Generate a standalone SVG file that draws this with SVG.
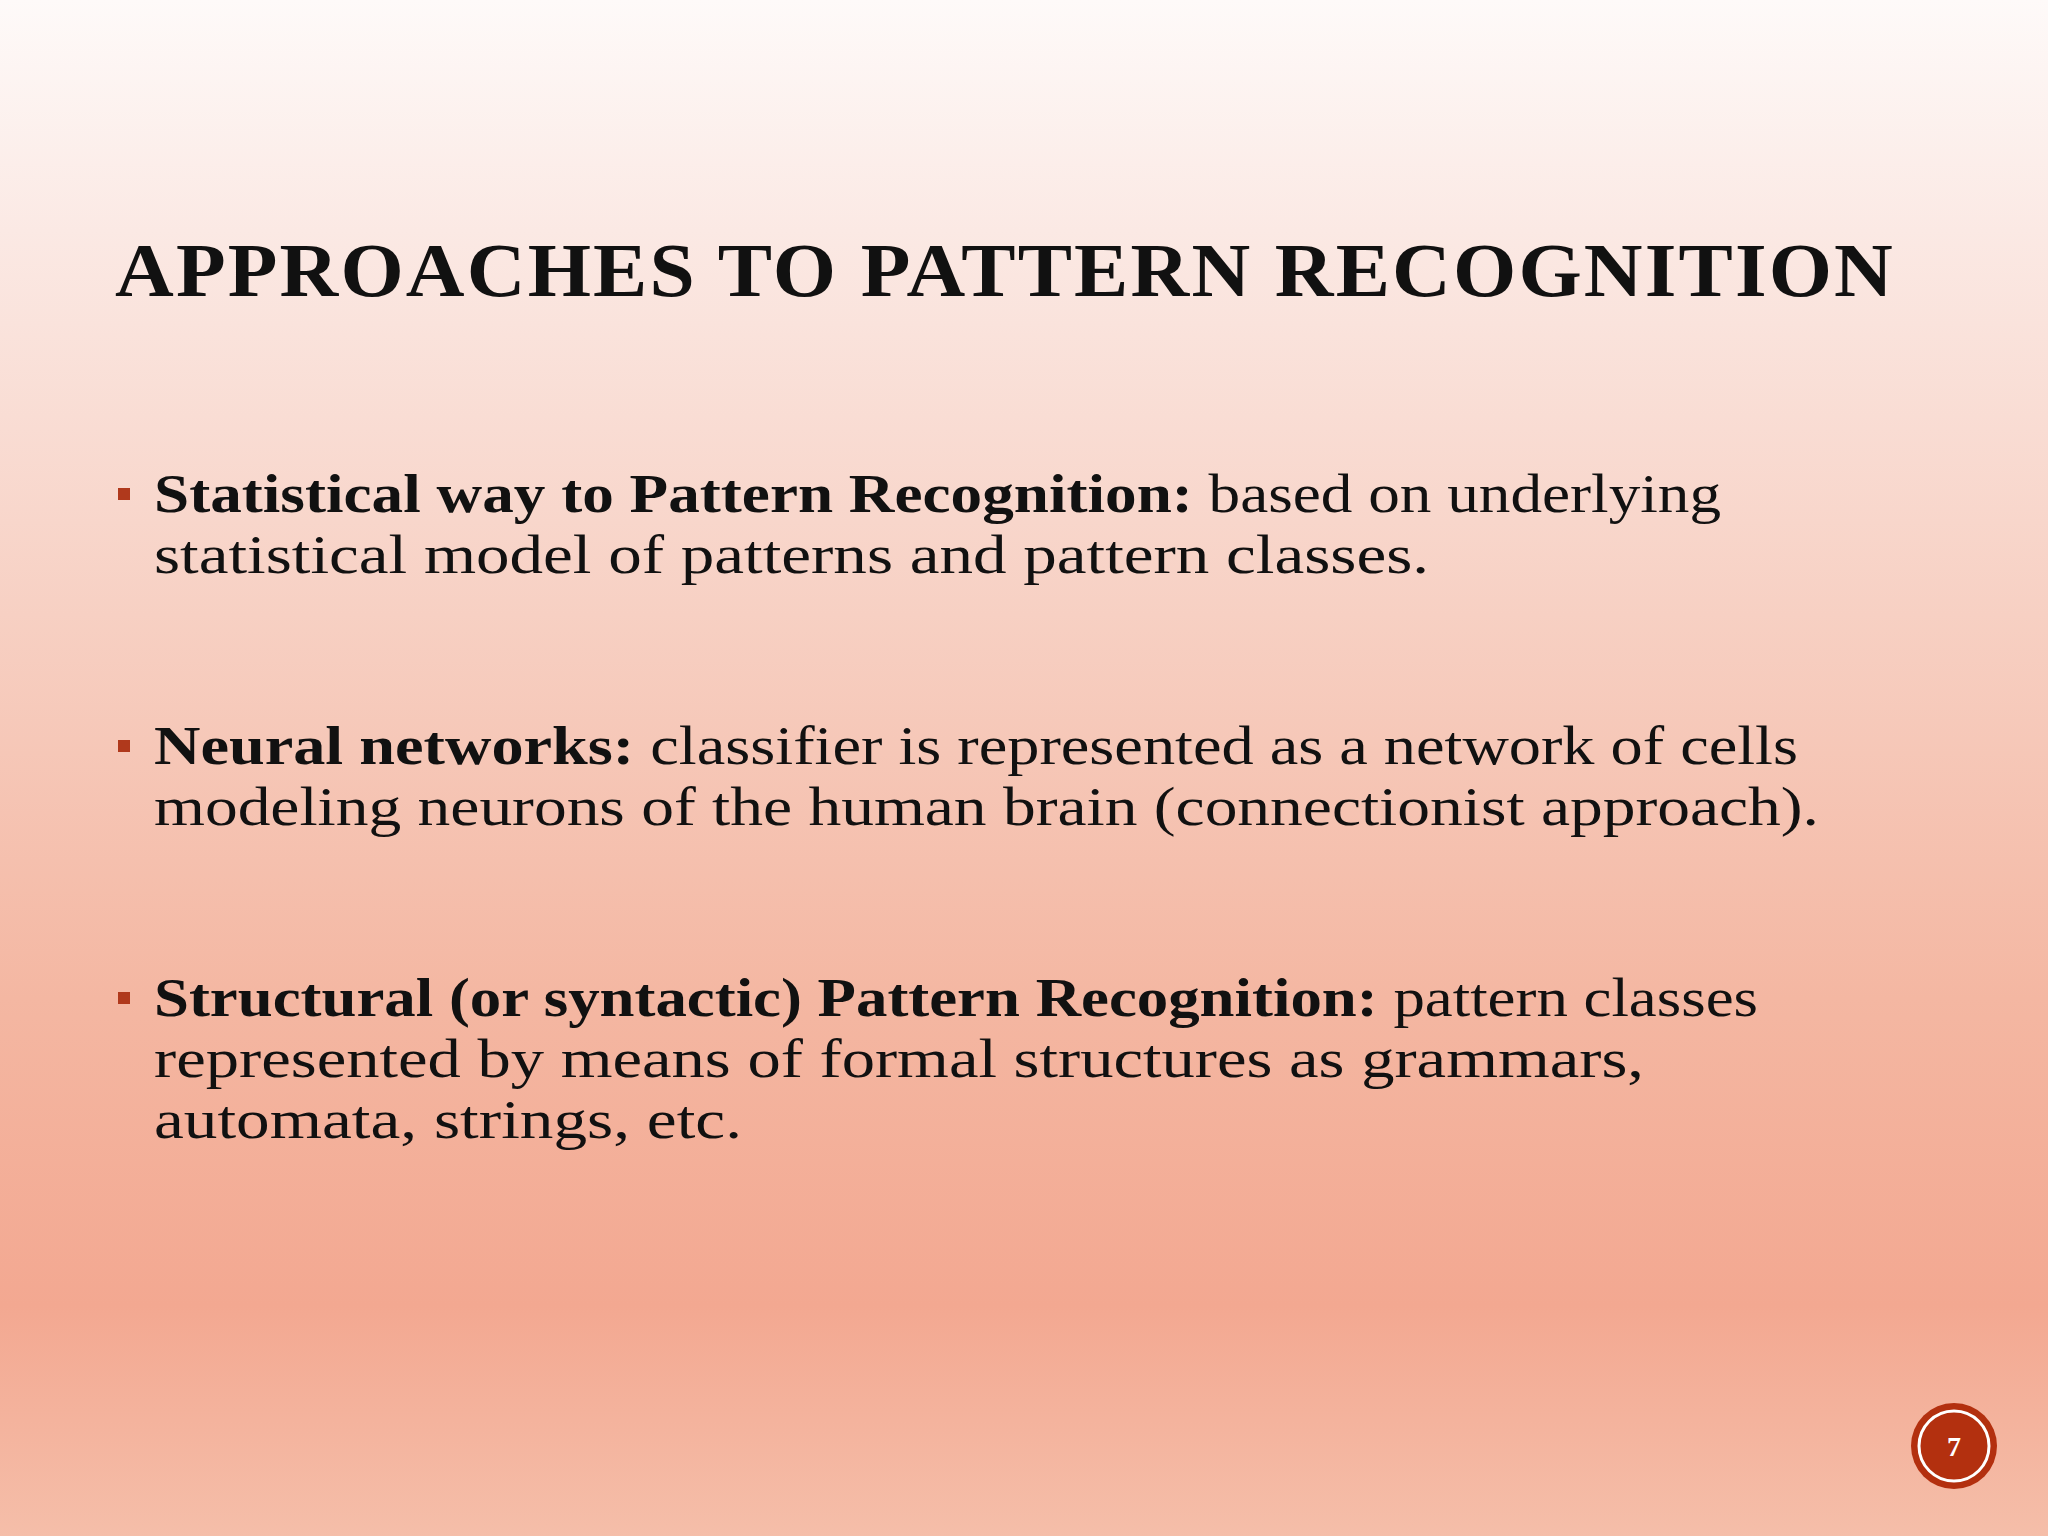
<svg xmlns="http://www.w3.org/2000/svg" width="2048" height="1536" viewBox="0 0 2048 1536">
<defs>
<linearGradient id="bg" x1="0" y1="0" x2="0" y2="1">
<stop offset="0" stop-color="#fefaf9"/>
<stop offset="0.15" stop-color="#fbe9e4"/>
<stop offset="0.4" stop-color="#f7d0c3"/>
<stop offset="0.65" stop-color="#f4b7a2"/>
<stop offset="0.85" stop-color="#f3a891"/>
<stop offset="1" stop-color="#f5bea9"/>
</linearGradient>
<style>
.t{font-family:"Liberation Serif",serif;font-size:55px;fill:#111}
.b{font-weight:bold}
.bul{fill:#b0391c}
</style>
</defs>
<rect width="2048" height="1536" fill="url(#bg)"/>
<g id="title"><text x="115" y="296" font-family="Liberation Serif,serif" font-weight="bold" font-size="76" fill="#111" textLength="1780" lengthAdjust="spacingAndGlyphs" letter-spacing="2">APPROACHES TO PATTERN RECOGNITION</text></g>
<g id="bullet1">
<rect class="bul" x="118" y="488" width="12" height="12"/>
<text class="t" x="154" y="512" textLength="1567" lengthAdjust="spacingAndGlyphs"><tspan class="b">Statistical way to Pattern Recognition:</tspan> based on underlying</text>
<text class="t" x="154" y="573" textLength="1275" lengthAdjust="spacingAndGlyphs">statistical model of patterns and pattern classes.</text>
</g>
<g id="bullet2">
<rect class="bul" x="118" y="740" width="12" height="12"/>
<text class="t" x="154" y="764" textLength="1644" lengthAdjust="spacingAndGlyphs"><tspan class="b">Neural networks:</tspan> classifier is represented as a network of cells</text>
<text class="t" x="154" y="825" textLength="1665" lengthAdjust="spacingAndGlyphs">modeling neurons of the human brain (connectionist approach).</text>
</g>
<g id="bullet3">
<rect class="bul" x="118" y="992" width="12" height="12"/>
<text class="t" x="154" y="1016" textLength="1604" lengthAdjust="spacingAndGlyphs"><tspan class="b">Structural (or syntactic) Pattern Recognition:</tspan> pattern classes</text>
<text class="t" x="154" y="1077" textLength="1490" lengthAdjust="spacingAndGlyphs">represented by means of formal structures as grammars,</text>
<text class="t" x="154" y="1138" textLength="588" lengthAdjust="spacingAndGlyphs">automata, strings, etc.</text>
</g>
<g id="page">
<circle cx="1954" cy="1446" r="43" fill="#b3300f"/>
<circle cx="1954" cy="1446" r="35" fill="none" stroke="#fff" stroke-width="3"/>
<text x="1954" y="1456" text-anchor="middle" font-family="Liberation Serif,serif" font-weight="bold" font-size="28" fill="#fff">7</text>
</g>
</svg>
